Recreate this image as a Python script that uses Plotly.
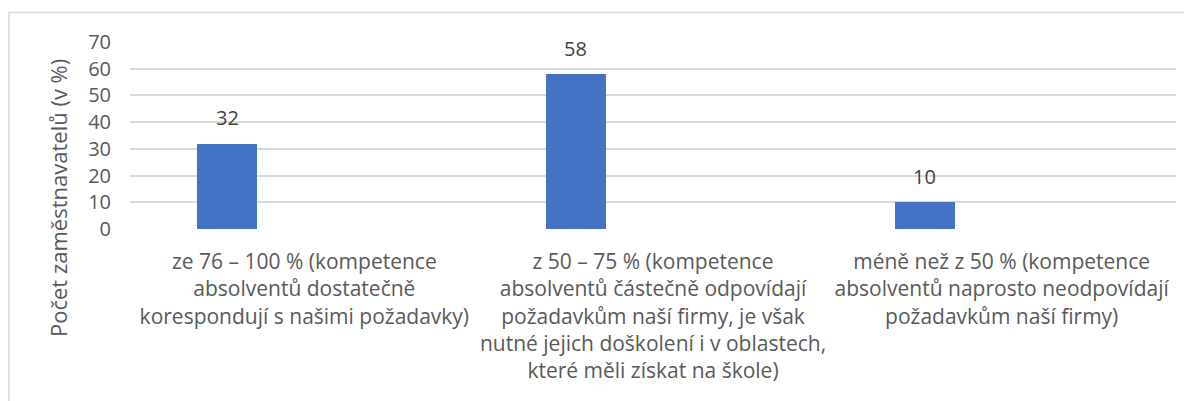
import plotly.graph_objects as go

# category labels (line breaks as in the original Excel chart)
categories = [
    "ze 76 – 100 % (kompetence<br>absolventů dostatečně<br>korespondují s našimi požadavky)",
    "z 50 – 75 % (kompetence<br>absolventů částečně odpovídají<br>požadavkům naší firmy, je však<br>nutné jejich doškolení i v oblastech,<br>které měli získat na škole)",
    "méně než z 50 % (kompetence<br>absolventů naprosto neodpovídají<br>požadavkům naší firmy)",
]
values = [32, 58, 10]
y_ticks = [0, 10, 20, 30, 40, 50, 60, 70]

FONT = "Open Sans"
BAR_W = 0.172
BAR_OFF = -0.307

fig = go.Figure()
fig.add_trace(go.Bar(
    x=categories,
    y=values,
    width=BAR_W,
    offset=BAR_OFF,
    marker=dict(color="#4472C4", line=dict(width=0)),
    hoverinfo="x+y",
))

# value labels above the bars
for i, v in enumerate(values):
    fig.add_annotation(
        x=i + BAR_OFF + BAR_W / 2, y=v, xref="x", yref="y",
        text=str(v), showarrow=False, yshift=26,
        font=dict(family=FONT, size=20, color="#404040"),
    )

# y axis title placed like in the original
fig.add_annotation(
    x=-0.0688, y=0.166, xref="paper", yref="paper",
    xanchor="center", yanchor="middle",
    text="Počet zaměstnavatelů (v %)", textangle=-90, showarrow=False,
    font=dict(family=FONT, size=22, color="#595959"),
)

# chart frame (right and bottom edges are outside the picture)
fig.add_shape(
    type="rect", xref="paper", yref="paper",
    x0=-0.1157, x1=1.1, y0=-1.0, y1=1.158,
    line=dict(color="#d9d9d9", width=1.5), fillcolor="rgba(0,0,0,0)",
    layer="below",
)

# the page body has an 8px margin, so the figure is offset by 8px
fig.update_layout(
    width=1176, height=393,
    margin=dict(l=122, r=8, t=34, b=172),
    paper_bgcolor="white", plot_bgcolor="white",
    showlegend=False,
    font=dict(family=FONT, size=20, color="#595959"),
    bargap=0,
)
fig.update_xaxes(
    type="category", range=[-0.5, 2.5],
    showgrid=False, showline=False, ticks="", zeroline=False,
    ticklabelstandoff=18,
    tickfont=dict(family=FONT, size=21, color="#595959"),
)
fig.update_yaxes(
    range=[0, 70], tickvals=y_ticks,
    showgrid=True, gridcolor="#d9d9d9", gridwidth=1.5,
    zeroline=False, showline=False, ticks="",
    ticklabelstandoff=18,
    tickfont=dict(family=FONT, size=20, color="#595959"),
)

fig.write_html("out.html")
